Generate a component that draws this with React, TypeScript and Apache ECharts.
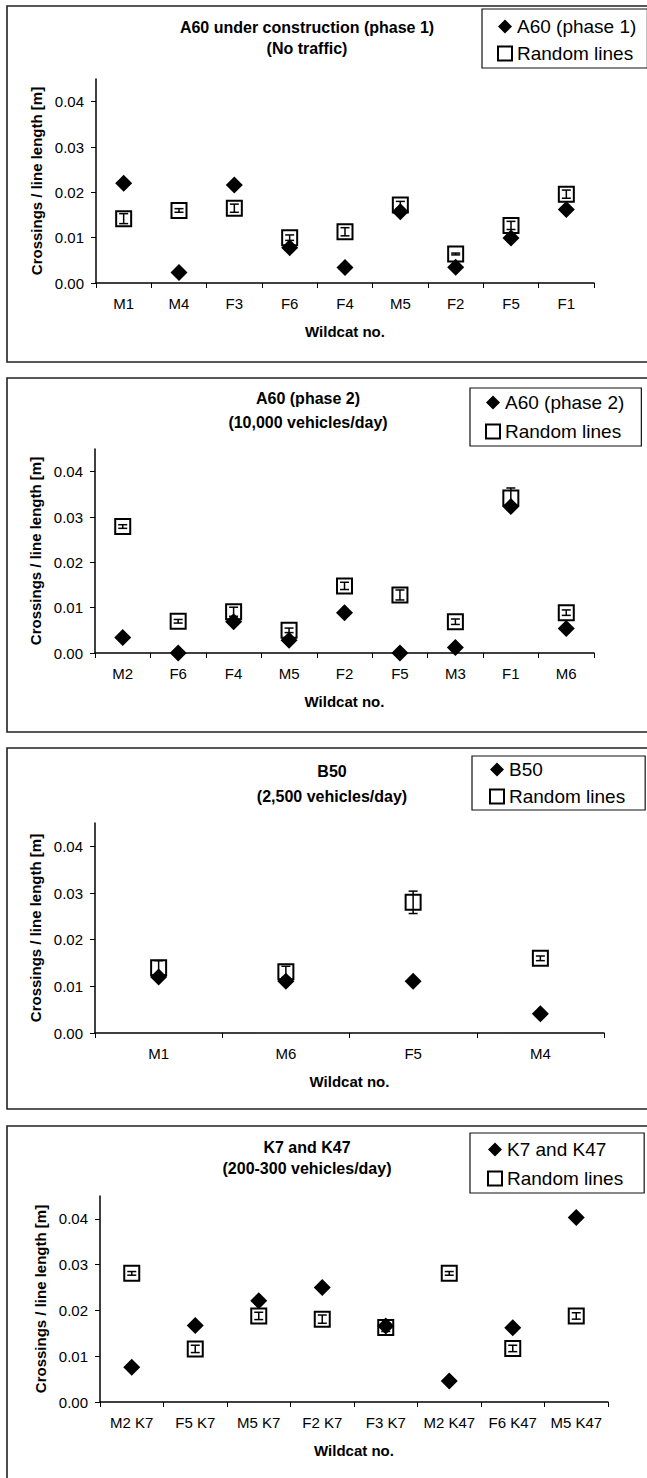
import React, { useEffect, useRef } from "react";
import * as echarts from "echarts";

const FONT = "'Liberation Sans', Arial, Helvetica, sans-serif";

// ---- data ----
const p1Cats = ["M1", "M4", "F3", "F6", "F4", "M5", "F2", "F5", "F1"];
const p1Road = [0.022, 0.0023, 0.0216, 0.0078, 0.0034, 0.0157, 0.0035, 0.0099, 0.0162];
const p1Random = [0.0142, 0.016, 0.0165, 0.01, 0.0113, 0.0172, 0.0064, 0.0127, 0.0196];
const p1Err = [0.0011, 0.0004, 0.0009, 0.0006, 0.0009, 0.0008, 0.0002, 0.0009, 0.0009];

const p2Cats = ["M2", "F6", "F4", "M5", "F2", "F5", "M3", "F1", "M6"];
const p2Road = [0.0034, 0.0, 0.0069, 0.0028, 0.0089, 0.0, 0.0012, 0.0323, 0.0054];
const p2Random = [0.0279, 0.007, 0.0091, 0.005, 0.0148, 0.0128, 0.0069, 0.0342, 0.0089];
const p2Err = [0.0004, 0.0004, 0.001, 0.0005, 0.0008, 0.0011, 0.0006, 0.0022, 0.0006];

const p3Cats = ["M1", "M6", "F5", "M4"];
const p3Road = [0.012, 0.0111, 0.0111, 0.0041];
const p3Random = [0.014, 0.0131, 0.028, 0.016];
const p3Err = [0.0015, 0.0012, 0.0024, 0.0005];

const p4Cats = ["M2 K7", "F5 K7", "M5 K7", "F2 K7", "F3 K7", "M2 K47", "F6 K47", "M5 K47"];
const p4Road = [0.0076, 0.0167, 0.0221, 0.025, 0.0166, 0.0046, 0.0162, 0.0403];
const p4Random = [0.0281, 0.0116, 0.0188, 0.0181, 0.0163, 0.0281, 0.0117, 0.0188];
const p4Err = [0.0004, 0.0008, 0.0008, 0.0009, 0.0009, 0.0004, 0.0007, 0.0007];

const roadNames = ["A60 (phase 1)", "A60 (phase 2)", "B50", "K7 and K47"];
const randomName = "Random lines";
const titles = [
  ["A60 under construction (phase 1)", "(No traffic)"],
  ["A60 (phase 2)", "(10,000 vehicles/day)"],
  ["B50", "(2,500 vehicles/day)"],
  ["K7 and K47", "(200-300 vehicles/day)"],
];
const yTicks = [0, 0.01, 0.02, 0.03, 0.04];
const yName = "Crossings / line length [m]";
const xName = "Wildcat no.";

const dataSets = [
  { cats: p1Cats, road: p1Road, random: p1Random, err: p1Err },
  { cats: p2Cats, road: p2Road, random: p2Random, err: p2Err },
  { cats: p3Cats, road: p3Road, random: p3Random, err: p3Err },
  { cats: p4Cats, road: p4Road, random: p4Random, err: p4Err },
];

// ---- layout ----
const layout = [
  {
    panel: { x: 7, y: 6, h: 356 },
    grid: { left: 96, top: 79, width: 498, height: 204 },
    title: { x: 307, y1: 27, y2: 48 },
    legend: { left: 482, top: 9, padding: [8, 11, 5, 15], gap: 8 },
    yGap: 52,
  },
  {
    panel: { x: 7, y: 378, h: 354 },
    grid: { left: 95, top: 449, width: 499, height: 204 },
    title: { x: 308, y1: 398, y2: 422 },
    legend: { left: 470, top: 388, padding: [5, 17, 5, 15], gap: 10 },
    yGap: 51,
  },
  {
    panel: { x: 7, y: 748, h: 361 },
    grid: { left: 95, top: 823, width: 509, height: 210 },
    title: { x: 332, y1: 771, y2: 796 },
    legend: { left: 472, top: 756, padding: [4, 20, 4, 17], gap: 8 },
    yGap: 48,
  },
  {
    panel: { x: 7, y: 1126, h: 400 },
    grid: { left: 100, top: 1196, width: 508, height: 206 },
    title: { x: 307, y1: 1147, y2: 1168 },
    legend: { left: 470, top: 1133, padding: [7, 21, 5, 17], gap: 10 },
    yGap: 51,
  },
];

const errRender = (params: any, api: any) => {
  const x = api.value(0);
  const lo = api.coord([x, api.value(1)]);
  const hi = api.coord([x, api.value(2)]);
  const w = 4.5;
  const style = { stroke: "#000", lineWidth: 1.5 };
  return {
    type: "group",
    children: [
      { type: "line", shape: { x1: lo[0], y1: lo[1], x2: hi[0], y2: hi[1] }, style },
      { type: "line", shape: { x1: lo[0] - w, y1: lo[1], x2: lo[0] + w, y2: lo[1] }, style },
      { type: "line", shape: { x1: hi[0] - w, y1: hi[1], x2: hi[0] + w, y2: hi[1] }, style },
    ],
  };
};

function buildOption() {
  const grid: any[] = [];
  const xAxis: any[] = [];
  const yAxis: any[] = [];
  const legend: any[] = [];
  const series: any[] = [];
  const graphic: any[] = [];

  dataSets.forEach((d, i) => {
    const L = layout[i];
    grid.push({ ...L.grid, containLabel: false });
    xAxis.push({
      type: "category",
      gridIndex: i,
      data: d.cats,
      boundaryGap: true,
      axisLine: { lineStyle: { color: "#000", width: 1.5 } },
      axisTick: { show: true, alignWithLabel: false, length: 5, lineStyle: { color: "#000", width: 1 } },
      axisLabel: { color: "#000", fontSize: 15, fontFamily: FONT, margin: 13, interval: 0 },
      splitLine: { show: false },
      name: xName,
      nameLocation: "middle",
      nameGap: 41,
      nameTextStyle: { color: "#000", fontSize: 15, fontWeight: "bold", fontFamily: FONT },
    });
    yAxis.push({
      type: "value",
      gridIndex: i,
      min: 0,
      max: 0.045,
      interval: 0.01,
      axisLine: { show: true, lineStyle: { color: "#000", width: 1.5 } },
      axisTick: { show: true, length: 5, customValues: yTicks, lineStyle: { color: "#000", width: 1 } },
      axisLabel: {
        color: "#000",
        fontSize: 15,
        fontFamily: FONT,
        margin: 12,
        customValues: yTicks,
        formatter: (v: number) => v.toFixed(2),
      },
      splitLine: { show: false },
      name: yName,
      nameLocation: "middle",
      nameGap: L.yGap,
      nameTextStyle: { color: "#000", fontSize: 15, fontWeight: "bold", fontFamily: FONT },
    });
    legend.push({
      orient: "vertical",
      left: L.legend.left,
      top: L.legend.top,
      padding: L.legend.padding,
      itemGap: L.legend.gap,
      itemWidth: 14,
      itemHeight: 14,
      borderColor: "#111",
      borderWidth: 1.2,
      backgroundColor: "#fff",
      textStyle: { color: "#000", fontSize: 19, fontFamily: FONT },
      data: [roadNames[i], randomName],
      selectedMode: false,
    });
    series.push({
      type: "scatter",
      name: randomName,
      xAxisIndex: i,
      yAxisIndex: i,
      data: d.random,
      symbol: "rect",
      symbolSize: 15,
      itemStyle: { color: "#fff", borderColor: "#000", borderWidth: 2, opacity: 1 },
      z: 2,
    });
    series.push({
      type: "custom",
      name: "error" + i,
      xAxisIndex: i,
      yAxisIndex: i,
      data: d.random.map((v, j) => [j, v - d.err[j], v + d.err[j]]),
      encode: { x: 0, y: [1, 2] },
      renderItem: errRender,
      z: 3,
    });
    series.push({
      type: "scatter",
      name: roadNames[i],
      xAxisIndex: i,
      yAxisIndex: i,
      data: d.road,
      symbol: "diamond",
      symbolSize: 17,
      itemStyle: { color: "#000", opacity: 1 },
      z: 4,
    });
    graphic.push({
      type: "rect",
      silent: true,
      z: -10,
      shape: { x: L.panel.x, y: L.panel.y, width: 700, height: L.panel.h },
      style: { fill: "none", stroke: "#222", lineWidth: 1.6 },
    });
    [titles[i][0], titles[i][1]].forEach((t, k) => {
      graphic.push({
        type: "text",
        silent: true,
        x: L.title.x,
        y: k === 0 ? L.title.y1 : L.title.y2,
        style: {
          text: t,
          fill: "#000",
          fontSize: 16,
          fontWeight: "bold",
          fontFamily: FONT,
          align: "center",
          verticalAlign: "middle",
        },
      });
    });
  });

  return {
    animation: false,
    backgroundColor: "#fff",
    textStyle: { fontFamily: FONT },
    grid,
    xAxis,
    yAxis,
    legend,
    series,
    graphic,
  };
}

export default function App() {
  const ref = useRef<HTMLDivElement>(null);
  useEffect(() => {
    if (!ref.current) return;
    const chart = echarts.init(ref.current, undefined, { renderer: "svg" });
    chart.setOption(buildOption() as any);
    return () => chart.dispose();
  }, []);
  return (
    <div
      ref={ref}
      style={{ position: "absolute", left: 0, top: 0, width: 647, height: 1478, background: "#fff" }}
    />
  );
}
